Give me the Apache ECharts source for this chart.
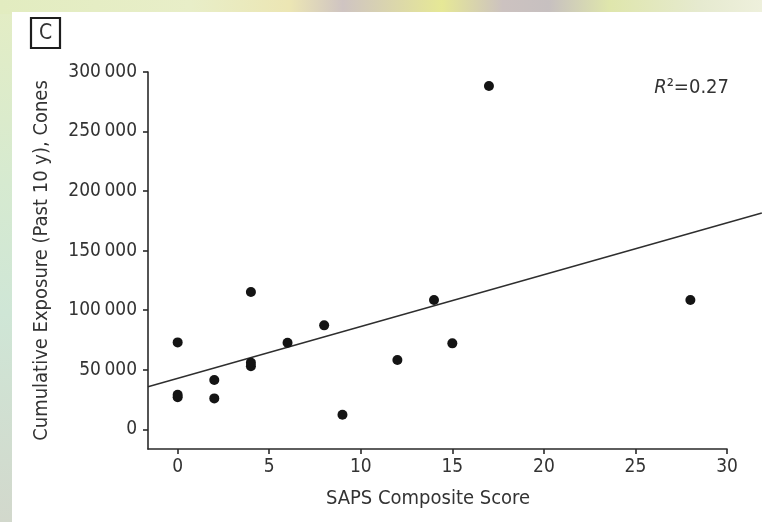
<!DOCTYPE html>
<html><head><meta charset="utf-8">
<script src="https://cdn.jsdelivr.net/npm/echarts@6/dist/echarts.min.js"></script>
<style>
html,body{margin:0;padding:0;background:#fff;}
#wrap{position:relative;width:762px;height:522px;overflow:hidden;
  background:linear-gradient(180deg,#e4edc4 0%,#d6ead0 35%,#cfe6d6 60%,#d2d8cc 100%);}
#top{position:absolute;left:0;top:0;width:762px;height:14px;
  background:linear-gradient(90deg,#e2ecc0 0%,#e8eec8 25%,#ece6b4 38%,#cfc4c2 45%,#e6e896 58%,#ccc2c0 66%,#c7c0c0 72%,#dfe6ac 80%,#e6ead0 92%,#eef0dc 100%);}
#panel{position:absolute;left:12px;top:12px;right:0;bottom:0;background:#fff;}
#c{position:absolute;left:0;top:0;width:762px;height:522px;}
</style>
</head><body>
<div id="wrap"><div id="top"></div><div id="panel"></div><div id="c"></div></div>
<script>
// ---- data ----
const sapsScore = [0, 0, 0, 2, 2, 4, 4, 4, 6, 8, 9, 12, 14, 15, 17, 28];
const exposure  = [73000, 27000, 29000, 41400, 26000, 115300, 53000, 56000, 72700, 87300, 12300, 58200, 108600, 72200, 288200, 108600];
const fitX = [-1.62, 31.9];
const fitY = [35800, 181600];
const xTicks = [0, 5, 10, 15, 20, 25, 30];
const yTicks = [0, 50000, 100000, 150000, 200000, 250000, 300000];
const xAxisTitle = 'SAPS Composite Score';
const yAxisTitle = 'Cumulative Exposure (Past 10 y), Cones';
const rSquaredText = '0.27';
const panelLabel = 'C';

const FONT = "'DejaVu Sans Condensed','Liberation Sans Narrow','Liberation Sans',sans-serif";
const TXT = '#333';
const AX = '#2a2a2a';

// layout
const W = 762, GL = 148, GR = 35, GT = 72, GB = 73;
const xMin = -1.62, xMax = 30, yMin = -16500, yMax = 300000;
// second (hidden) axis so the fit line can run past x = 30 to the panel edge, same scale
const pxPerUnit = (W - GL - GR) / (xMax - xMin);
const xMax2 = xMin + (W - GL) / pxPerUnit;

const chart = echarts.init(document.getElementById('c'), null, {renderer: 'canvas'});
const fmt = v => String(v).replace(/\B(?=(\d{3})+(?!\d))/g, '\u2009');

chart.setOption({
  backgroundColor: 'transparent',
  animation: false,
  textStyle: {fontFamily: FONT},
  grid: [
    {left: GL, right: GR, top: GT, bottom: GB, containLabel: false},
    {left: GL, right: 0, top: GT, bottom: GB, containLabel: false}
  ],
  xAxis: [{
    type: 'value', gridIndex: 0, min: xMin, max: xMax,
    name: xAxisTitle, nameLocation: 'middle', nameGap: 40,
    nameTextStyle: {fontFamily: FONT, fontSize: 20, color: TXT, padding: [0, 19, 0, 0]},
    axisLine: {show: true, onZero: false, lineStyle: {color: AX, width: 1.6}},
    axisTick: {show: true, inside: false, length: 5, customValues: xTicks, lineStyle: {color: AX, width: 1.6}},
    axisLabel: {customValues: xTicks, fontFamily: FONT, fontSize: 19, color: TXT, margin: 9},
    splitLine: {show: false}, z: 3
  }, {
    type: 'value', gridIndex: 1, min: xMin, max: xMax2, show: false
  }],
  yAxis: [{
    type: 'value', gridIndex: 0, min: yMin, max: yMax,
    name: yAxisTitle, nameLocation: 'middle', nameGap: 96, nameRotate: 90,
    nameTextStyle: {fontFamily: FONT, fontSize: 20, color: TXT},
    axisLine: {show: true, onZero: false, lineStyle: {color: AX, width: 1.6}},
    axisTick: {show: true, inside: false, length: 5, customValues: yTicks, lineStyle: {color: AX, width: 1.6}},
    axisLabel: {customValues: yTicks, fontFamily: FONT, fontSize: 19, color: TXT, margin: 11, formatter: fmt},
    splitLine: {show: false}, z: 3
  }, {
    type: 'value', gridIndex: 1, min: yMin, max: yMax, show: false
  }],
  graphic: [
    {type: 'rect', shape: {x: 31, y: 18, width: 29, height: 30},
     style: {fill: '#fff', stroke: '#1e1e1e', lineWidth: 2.2}},
    {type: 'text', x: 45.5, y: 33.5,
     style: {text: panelLabel, font: '21px ' + FONT, fill: '#333', align: 'center', verticalAlign: 'middle', textAlign: 'center', textVerticalAlign: 'middle'}},
    {type: 'text', x: 729, y: 88,
     style: {text: '{i|R}{n|²=' + rSquaredText + '}', align: 'right', verticalAlign: 'middle', textAlign: 'right', textVerticalAlign: 'middle',
       rich: {i: {fontFamily: FONT, fontSize: 20, fontStyle: 'italic', fill: '#333', color: '#333'},
              n: {fontFamily: FONT, fontSize: 20, fill: '#333', color: '#333'}}}}
  ],
  series: [
    {type: 'line', xAxisIndex: 1, yAxisIndex: 1, data: fitX.map((x, i) => [x, fitY[i]]),
     showSymbol: false, symbol: 'none', clip: false, silent: true,
     lineStyle: {color: '#2e2e2e', width: 1.4}, z: 2},
    {type: 'scatter', xAxisIndex: 0, yAxisIndex: 0, data: sapsScore.map((x, i) => [x, exposure[i]]),
     symbol: 'circle', symbolSize: 10,
     itemStyle: {color: '#141414', opacity: 1}, z: 4}
  ]
});
</script>
</body></html>
